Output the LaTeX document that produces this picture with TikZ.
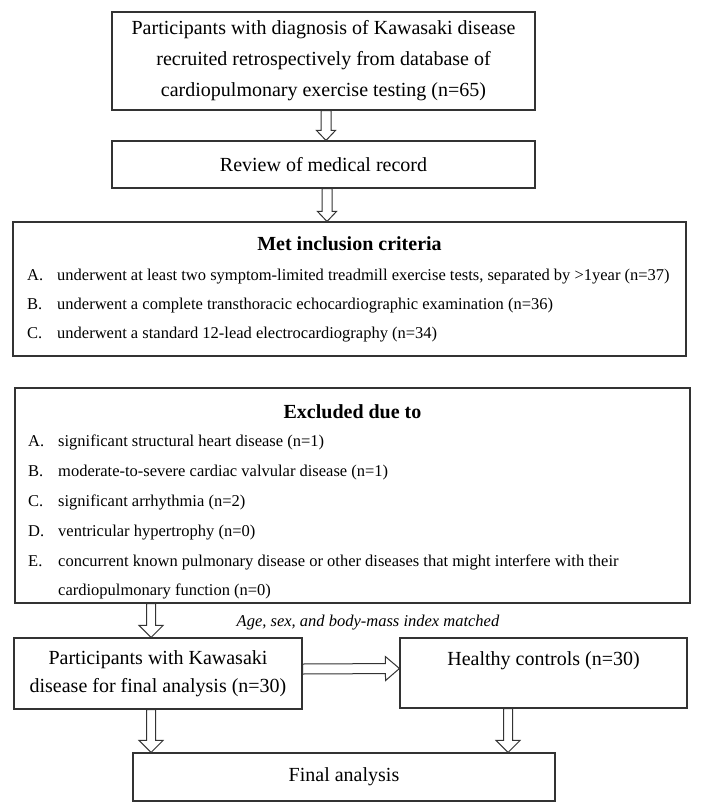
\documentclass[tikz,border=0pt]{standalone}
\usepackage{fontspec}
\setmainfont{Liberation Serif}
\usetikzlibrary{calc}
\tikzset{
  box/.style={draw=black!80, line width=1.1pt, inner sep=0pt, fill=white},
  big/.style={font=\fontsize{20}{31}\selectfont, align=center, text=black},
  itemtxt/.style={font=\fontsize{16.5}{20}\selectfont, anchor=base west, inner sep=0pt, text=black},
  ttl/.style={font=\fontsize{20}{24}\selectfont\bfseries, anchor=base, inner sep=0pt, text=black},
  barrow/.style={draw=black!80, line width=1pt, fill=white, line join=miter},
}
% #1 start, #2 end, #3 half shaft, #4 half head, #5 head length
\newcommand{\blockarrow}[5]{%
  \coordinate (ba-s) at (#1);
  \coordinate (ba-e) at (#2);
  \coordinate (ba-h) at ($(ba-e)!#5!(ba-s)$);
  \draw[barrow] ($(ba-s)!#3!90:(ba-e)$) -- ($(ba-h)!#3!90:(ba-e)$) -- ($(ba-h)!#4!90:(ba-e)$) -- (ba-e)
     -- ($(ba-h)!#4!-90:(ba-e)$) -- ($(ba-h)!#3!-90:(ba-e)$) -- ($(ba-s)!#3!-90:(ba-e)$) -- cycle;}
\begin{document}
\begin{tikzpicture}[x=1pt,y=-1pt]
\useasboundingbox[fill=white] (0,0) rectangle (702,810);

\node[box,big,minimum width=423pt,minimum height=98pt] (b1) at (323.5,61)
  {Participants with diagnosis of Kawasaki disease\\recruited retrospectively from database of\\cardiopulmonary exercise testing (n=65)};
\node[box,big,minimum width=423pt,minimum height=47pt] (b2) at (323.5,164.5) {Review of medical record};

\node[box,minimum width=673pt,minimum height=134pt] (b3) at (349.5,289) {};
\node[ttl] (t3) at (349.5,251) {Met inclusion criteria};
\node[itemtxt] (i3a) at (27,280) {A.};
\node[itemtxt] (i3at) at (57,280) {underwent at least two symptom-limited treadmill exercise tests, separated by >1year (n=37)};
\node[itemtxt] (i3b) at (27,309) {B.};
\node[itemtxt] (i3bt) at (57,309) {underwent a complete transthoracic echocardiographic examination (n=36)};
\node[itemtxt] (i3c) at (27,338) {C.};
\node[itemtxt] (i3ct) at (57,338) {underwent a standard 12-lead electrocardiography (n=34)};

\node[box,minimum width=675pt,minimum height=215pt] (b4) at (352.5,495.5) {};
\node[ttl] (t4) at (352.5,418) {Excluded due to};
\node[itemtxt] (i4a) at (28,446) {A.};
\node[itemtxt] (i4at) at (58,446) {significant structural heart disease (n=1)};
\node[itemtxt] (i4b) at (28,476) {B.};
\node[itemtxt] (i4bt) at (58,476) {moderate-to-severe cardiac valvular disease (n=1)};
\node[itemtxt] (i4c) at (28,506) {C.};
\node[itemtxt] (i4ct) at (58,506) {significant arrhythmia (n=2)};
\node[itemtxt] (i4d) at (28,536) {D.};
\node[itemtxt] (i4dt) at (58,536) {ventricular hypertrophy (n=0)};
\node[itemtxt] (i4e) at (28,566) {E.};
\node[itemtxt] (i4et) at (58,566) {concurrent known pulmonary disease or other diseases that might interfere with their};
\node[itemtxt] (i4et2) at (58,595) {cardiopulmonary function (n=0)};

\node[font=\fontsize{16.5}{20}\selectfont\itshape, inner sep=0pt, text=black] (lbl) at (368,623) {Age, sex, and body-mass index matched};

\node[box,font=\fontsize{20}{28}\selectfont,align=center,minimum width=288pt,minimum height=71pt] (b5) at (158,673.5)
  {Participants with Kawasaki\\disease for final analysis (n=30)};
\node[box,minimum width=287pt,minimum height=70pt] (b6) at (543.5,673) {};
\node[big,inner sep=0pt] (t6) at (543.5,661) {Healthy controls (n=30)};
\node[box,big,minimum width=422pt,minimum height=48pt] (fin) at (344,777) {Final analysis};

\coordinate (k0) at ([xshift=2.5pt]b1.south);
\blockarrow{k0}{b2.north -| k0}{5pt}{9.5pt}{10pt}
\coordinate (k4) at ([xshift=3.5pt]b2.south);
\blockarrow{k4}{b3.north -| k4}{5pt}{9.5pt}{10pt}
\coordinate (k1) at ([xshift=-7pt]b5.north);
\blockarrow{b4.south -| k1}{k1}{4.5pt}{12pt}{12pt}
\blockarrow{[yshift=4.5pt]b5.east}{[yshift=4.5pt]b6.west}{5pt}{12pt}{14pt}
\coordinate (k2) at ([xshift=-7pt]b5.south);
\blockarrow{k2}{fin.north -| k2}{4.5pt}{12pt}{12pt}
\coordinate (k3) at ([xshift=-35.5pt]b6.south);
\blockarrow{k3}{fin.north -| k3}{4.5pt}{12pt}{12pt}
\end{tikzpicture}
\end{document}
